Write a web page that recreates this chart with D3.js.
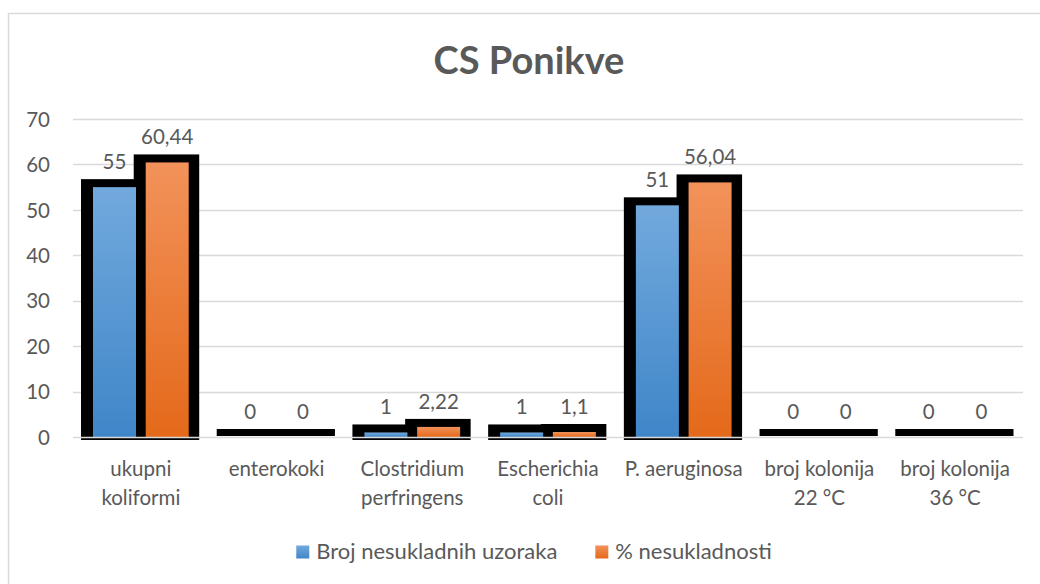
<!DOCTYPE html>
<html>
<head>
<meta charset="utf-8">
<script src="https://cdn.jsdelivr.net/npm/d3@7"></script>
<style>
  html, body { margin: 0; padding: 0; background: #fff; }
  svg { display: block; font-family: Lato, "Open Sans", sans-serif; }
</style>
</head>
<body>
<svg id="chart" width="1040" height="584"></svg>
<script>
// Categories (multi-line axis labels)
const categories = [
  ["ukupni", "koliformi"],
  ["enterokoki"],
  ["Clostridium", "perfringens"],
  ["Escherichia", "coli"],
  ["P. aeruginosa"],
  ["broj kolonija", "22 °C"],
  ["broj kolonija", "36 °C"]
];
const seriesNames = ["Broj nesukladnih uzoraka", "% nesukladnosti"];
const brojNesukladnih = [55, 0, 1, 1, 51, 0, 0];
const postoNesukladnosti = [60.44, 0, 2.22, 1.1, 56.04, 0, 0];
const yTicks = [0, 10, 20, 30, 40, 50, 60, 70];

const seriesValues = [brojNesukladnih, postoNesukladnosti];
const catKeys = categories.map(c => c.join(" "));

const svg = d3.select("#chart");
const textColor = "#595959";
const gridColor = "#d9d9d9";
const labelSize = 20.5;
const legendSize = 22;

// Chart frame
svg.append("path")
  .attr("d", "M8.5,1040 V13.5 H1040")
  .attr("fill", "none")
  .attr("stroke", gridColor)
  .attr("stroke-width", 1.5);

// Gradients
const defs = svg.append("defs");
const grads = [
  { id: "gBlue", top: "#72a9dd", bottom: "#3f86c8" },
  { id: "gOrange", top: "#f2925a", bottom: "#e4691a" }
];
grads.forEach(g => {
  const lg = defs.append("linearGradient").attr("id", g.id)
    .attr("x1", 0).attr("y1", 0).attr("x2", 0).attr("y2", 1);
  lg.append("stop").attr("offset", "0%").attr("stop-color", g.top);
  lg.append("stop").attr("offset", "100%").attr("stop-color", g.bottom);
});

// Scales
const y = d3.scaleLinear().domain([0, 70]).range([437, 119]);
const x0 = d3.scaleBand().domain(catKeys).range([73, 1023]).padding(0);
const bw = x0.bandwidth();
const x1 = d3.scaleBand().domain([0, 1]).range([20, bw - 20]).paddingInner(0.184).paddingOuter(0);

// Title
svg.append("text")
  .attr("x", 529).attr("y", 74)
  .attr("text-anchor", "middle")
  .attr("font-size", 38).attr("font-weight", 700)
  .attr("fill", textColor)
  .text("CS Ponikve");

// Gridlines
svg.append("g").selectAll("line")
  .data(yTicks.filter(t => t > 0))
  .join("line")
  .attr("x1", 73).attr("x2", 1023)
  .attr("y1", d => Math.round(y(d)) + 0.5).attr("y2", d => Math.round(y(d)) + 0.5)
  .attr("stroke", gridColor).attr("stroke-width", 1.3);

// Y axis labels
const yAxis = d3.axisLeft(y).tickValues(yTicks).tickSize(0).tickPadding(0);
const yg = svg.append("g").attr("transform", "translate(50,0)").call(yAxis);
yg.select(".domain").remove();
yg.selectAll("text")
  .attr("font-family", "Lato, 'Open Sans', sans-serif")
  .attr("font-size", labelSize).attr("fill", textColor).attr("dy", "0.35em");

// Bar records
const bars = [];
catKeys.forEach((k, i) => {
  seriesValues.forEach((vals, s) => {
    bars.push({ key: k, s, v: vals[i] });
  });
});

const barX = d => x0(d.key) + x1(d.s);
const fw = x1.bandwidth();

// Black outlines first, then the gradient fills over them
svg.append("g").selectAll("rect")
  .data(bars)
  .join("rect")
  .attr("x", d => barX(d) - 12)
  .attr("width", fw + 22.5)
  .attr("y", d => y(d.v) - 8)
  .attr("height", d => (y(0) + (d.v > 0 ? 3 : -1)) - (y(d.v) - 8))
  .attr("fill", "#000");

svg.append("g").selectAll("rect")
  .data(bars.filter(d => d.v > 0))
  .join("rect")
  .attr("x", d => barX(d))
  .attr("width", fw)
  .attr("y", d => y(d.v))
  .attr("height", d => y(0) - y(d.v))
  .attr("fill", d => d.s === 0 ? "url(#gBlue)" : "url(#gOrange)");

// Baseline
svg.append("line")
  .attr("x1", 73).attr("x2", 1023)
  .attr("y1", y(0) + 0.5).attr("y2", y(0) + 0.5)
  .attr("stroke", gridColor).attr("stroke-width", 1.5);

// Value labels
svg.append("g").selectAll("text")
  .data(bars)
  .join("text")
  .attr("x", d => barX(d) + fw / 2)
  .attr("y", d => y(d.v) - 18)
  .attr("text-anchor", "middle")
  .attr("font-size", labelSize)
  .attr("fill", textColor)
  .text(d => String(d.v).replace(".", ","));

// Category labels
const cg = svg.append("g").selectAll("text")
  .data(categories)
  .join("text")
  .attr("x", (d, i) => x0(catKeys[i]) + bw / 2)
  .attr("y", 476)
  .attr("text-anchor", "middle")
  .attr("font-size", labelSize)
  .attr("fill", textColor);
cg.selectAll("tspan")
  .data(d => d)
  .join("tspan")
  .attr("x", function () { return this.parentNode.getAttribute("x"); })
  .attr("dy", (d, i) => i === 0 ? 0 : 29)
  .text(d => d);

// Legend
const legend = svg.append("g");
const items = legend.selectAll("g")
  .data(seriesNames)
  .join("g");
items.append("rect")
  .attr("width", 13).attr("height", 13)
  .attr("y", 545.5)
  .attr("fill", (d, i) => i === 0 ? "url(#gBlue)" : "url(#gOrange)");
items.append("text")
  .attr("x", 20).attr("y", 558.5)
  .attr("font-size", legendSize).attr("fill", textColor)
  .text(d => d);
let widths = [];
items.each(function () { widths.push(this.querySelector("text").getComputedTextLength() + 20); });
const gap = 38;
const total = widths[0] + gap + widths[1];
let start = 534 - total / 2;
items.attr("transform", (d, i) => `translate(${i === 0 ? start : start + widths[0] + gap},0)`);
</script>
</body>
</html>
